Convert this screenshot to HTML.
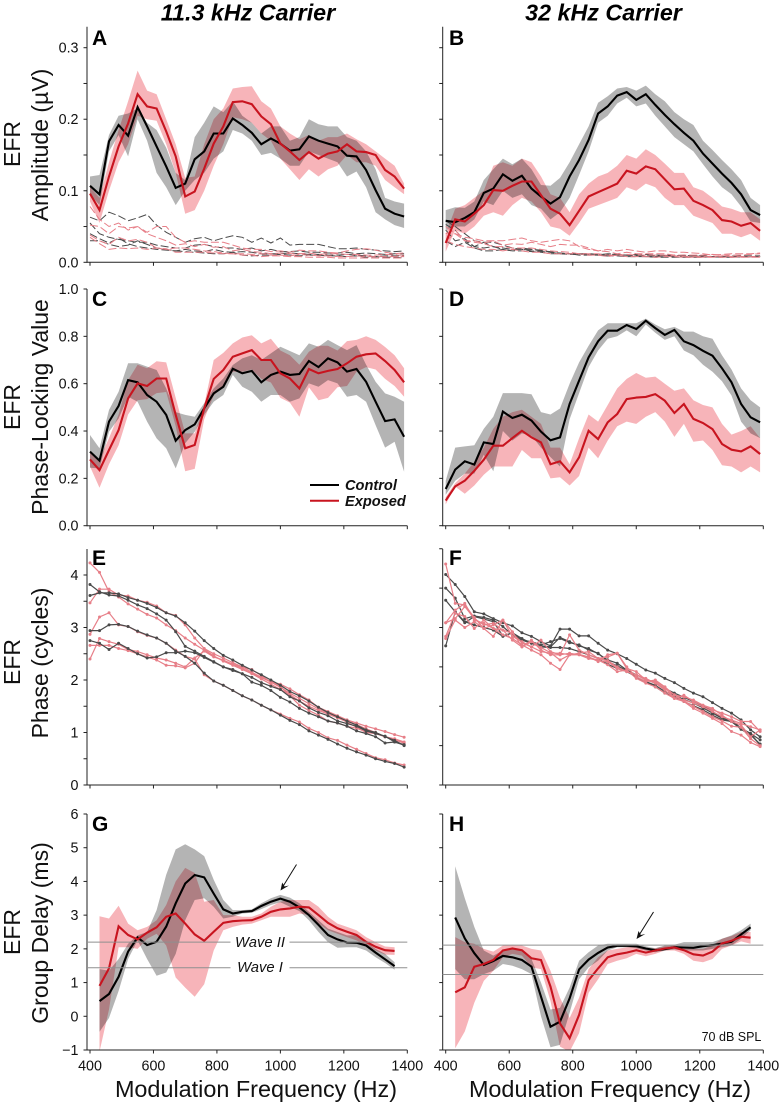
<!DOCTYPE html>
<html lang="en">
<head>
<meta charset="utf-8">
<title>EFR amplitude, phase-locking, phase and group delay</title>
<style>
html,body{margin:0;padding:0;background:#fff;width:780px;height:1103px;overflow:hidden}
svg{display:block;font-family:"Liberation Sans",sans-serif}
.ttl{font-size:23.3px;font-weight:bold;font-style:italic;text-anchor:middle;fill:#000}
.pl{font-size:21px;font-weight:bold;fill:#000}
.yt{font-size:23px;text-anchor:middle;fill:#111}
.xt{font-size:23.4px;text-anchor:middle;fill:#111}
.leg{font-size:14.6px;font-weight:bold;font-style:italic;fill:#111}
.wave{font-size:14.8px;font-style:italic;text-anchor:middle;fill:#111}
.tick{font-size:14.3px;fill:#111}
</style>
</head>
<body>
<svg id="chart" xmlns="http://www.w3.org/2000/svg" width="780" height="1103" viewBox="0 0 780 1103">
  <defs id="defs"></defs>
  <g id="marks"></g>

  <text class="ttl" x="248" y="20.5">11.3 kHz Carrier</text>
  <text class="ttl" x="603.5" y="20.5">32 kHz Carrier</text>

  <text class="pl" x="92" y="45">A</text>
  <text class="pl" x="449" y="45">B</text>
  <text class="pl" x="92" y="306">C</text>
  <text class="pl" x="449" y="306">D</text>
  <text class="pl" x="92" y="565">E</text>
  <text class="pl" x="449" y="565">F</text>
  <text class="pl" x="92" y="831">G</text>
  <text class="pl" x="449" y="831">H</text>

  <text class="yt" transform="translate(20,144) rotate(-90)">EFR</text>
  <text class="yt" transform="translate(48,145) rotate(-90)">Amplitude (µV)</text>
  <text class="yt" transform="translate(20,407) rotate(-90)">EFR</text>
  <text class="yt" transform="translate(48,407) rotate(-90)">Phase-Locking Value</text>
  <text class="yt" transform="translate(20,662) rotate(-90)">EFR</text>
  <text class="yt" transform="translate(48,663) rotate(-90)">Phase (cycles)</text>
  <text class="yt" transform="translate(20,932) rotate(-90)">EFR</text>
  <text class="yt" transform="translate(48,933) rotate(-90)">Group Delay (ms)</text>

  <text class="xt" x="256" y="1097">Modulation Frequency (Hz)</text>
  <text class="xt" x="610" y="1097">Modulation Frequency (Hz)</text>

  <g>
    <line x1="310" x2="339" y1="485" y2="485" stroke="#000" stroke-width="2"/>
    <text class="leg" x="345" y="490">Control</text>
    <line x1="310" x2="339" y1="500.7" y2="500.7" stroke="#c8141f" stroke-width="2"/>
    <text class="leg" x="345" y="506">Exposed</text>
  </g>

  <text class="wave" x="260" y="947">Wave II</text>
  <text class="wave" x="260" y="972">Wave I</text>

  <g stroke="#111" fill="none">
    <line x1="296.5" y1="864.5" x2="282" y2="888" stroke-width="1"/>
    <path d="M280.5 890.5 L282.2 882.5 L284.5 886.5 L289 885.5 Z" fill="#111" stroke="none"/>
  </g>
  <g stroke="#111" fill="none">
    <line x1="653.5" y1="912" x2="638.5" y2="936" stroke-width="1"/>
    <path d="M636.5 939 L638.5 931 L640.8 935 L645.3 934 Z" fill="#111" stroke="none"/>
  </g>

  <text x="731.5" y="1041" font-size="12.5" text-anchor="middle" fill="#111">70 dB SPL</text>
</svg>

<script>
// ---------- shared axes ----------
const xTicks = [400, 600, 800, 1000, 1200, 1400];
const xTickLabels = ['400', '600', '800', '1000', '1200', '1400'];
const freqs = [400,430,460,490,520,550,580,610,640,670,700,730,760,790,820,850,880,910,940,970,1000,1030,1060,1090,1120,1150,1180,1210,1240,1270,1300,1330,1360,1390];
const delayFreqs = [430,460,490,520,550,580,610,640,670,700,730,760,790,820,850,880,910,940,970,1000,1030,1060,1090,1120,1150,1180,1210,1240,1270,1300,1330,1360];

const ampTicks = [0,0.05,0.1,0.15,0.2,0.25,0.3];
const ampTickLabels = ['0.0','','0.1','','0.2','','0.3'];
const plvTicks = [0,0.2,0.4,0.6,0.8,1];
const plvTickLabels = ['0.0','0.2','0.4','0.6','0.8','1.0'];
const phaseTicks = [0,0.5,1,1.5,2,2.5,3,3.5,4];
const phaseTickLabels = ['0','','1','','2','','3','','4'];
const phaseTicksRight = [0,0.75,1.5,2.25,3,3.75,4.5];
const delayTicks = [-1,0,1,2,3,4,5,6];
const delayTickLabels = ['\u22121','0','1','2','3','4','5','6'];

// ---------- panel A ----------
const aControl = [.107,.095,.169,.192,.177,.217,.19,.162,.134,.104,.11,.144,.155,.18,.18,.201,.192,.181,.165,.173,.166,.156,.158,.176,.17,.166,.162,.149,.148,.129,.101,.075,.068,.064];
const aControlHi = [.12,.122,.178,.205,.208,.215,.195,.185,.16,.125,.115,.175,.195,.218,.21,.225,.205,.195,.18,.19,.19,.17,.175,.2,.193,.19,.19,.175,.17,.155,.13,.09,.085,.082];
const aControlLo = [.095,.08,.155,.178,.148,.2,.17,.125,.105,.08,.1,.115,.125,.145,.155,.185,.18,.17,.15,.153,.145,.135,.135,.155,.15,.145,.14,.12,.127,.105,.07,.06,.052,.048];
const aExposed = [.096,.073,.12,.162,.194,.235,.218,.215,.183,.148,.092,.099,.131,.166,.19,.224,.225,.221,.204,.193,.166,.155,.143,.154,.145,.152,.155,.165,.155,.154,.15,.129,.12,.103];
const aExposedHi = [.105,.09,.14,.185,.225,.268,.24,.235,.2,.165,.118,.12,.165,.2,.215,.243,.245,.246,.225,.215,.19,.18,.172,.178,.17,.175,.175,.18,.172,.165,.155,.145,.135,.11];
const aExposedLo = [.085,.055,.1,.14,.165,.205,.2,.198,.165,.125,.068,.073,.1,.135,.165,.203,.2,.195,.18,.17,.145,.13,.115,.13,.12,.13,.135,.15,.14,.14,.135,.115,.105,.095];
const aNoiseControl1 = [.063,.058,.07,.065,.058,.062,.067,.052,.042,.035,.028,.033,.035,.03,.034,.037,.035,.028,.034,.027,.034,.024,.025,.025,.025,.022,.019,.019,.02,.018,.017,.016,.015,.016];
const aNoiseControl2 = [.055,.04,.035,.032,.03,.028,.028,.024,.022,.02,.02,.024,.025,.022,.02,.02,.018,.02,.016,.018,.015,.015,.016,.014,.014,.013,.013,.014,.012,.013,.012,.011,.012,.012];
const aNoiseControl3 = [.04,.033,.027,.034,.026,.022,.02,.018,.017,.016,.018,.016,.015,.018,.015,.014,.015,.014,.012,.012,.012,.013,.012,.011,.011,.01,.01,.011,.01,.009,.008,.009,.009,.009];
const aNoiseControl4 = [.03,.03,.025,.022,.024,.03,.025,.02,.018,.016,.015,.014,.013,.012,.012,.014,.01,.009,.01,.01,.011,.01,.009,.01,.01,.009,.009,.008,.009,.007,.008,.007,.007,.006];
const aNoiseExposed1 = [.078,.06,.05,.055,.045,.05,.042,.05,.05,.035,.028,.03,.028,.028,.028,.024,.02,.018,.018,.015,.016,.014,.017,.016,.016,.014,.013,.016,.018,.019,.017,.014,.012,.013];
const aNoiseExposed2 = [.052,.05,.04,.05,.048,.05,.04,.035,.03,.024,.026,.022,.025,.021,.022,.016,.018,.015,.014,.012,.013,.012,.012,.013,.011,.012,.012,.011,.011,.01,.01,.011,.01,.01];
const aNoiseExposed3 = [.038,.03,.025,.035,.03,.032,.028,.02,.018,.02,.02,.018,.016,.015,.013,.012,.012,.011,.012,.01,.01,.009,.011,.01,.009,.009,.008,.008,.009,.008,.008,.008,.008,.008];
const aNoiseExposed4 = [.035,.026,.018,.02,.019,.02,.018,.02,.019,.014,.014,.014,.014,.013,.012,.012,.01,.01,.008,.009,.009,.008,.008,.007,.007,.007,.006,.006,.006,.006,.006,.006,.006,.006];

// ---------- panel B ----------
const bControl = [.058,.056,.062,.07,.097,.103,.123,.114,.121,.103,.092,.082,.091,.12,.143,.171,.208,.218,.233,.238,.227,.235,.22,.206,.193,.181,.17,.152,.138,.124,.111,.095,.073,.066];
const bControlHi = [.073,.077,.076,.085,.115,.13,.145,.137,.145,.13,.108,.107,.118,.14,.165,.19,.223,.232,.243,.245,.24,.247,.235,.225,.21,.2,.192,.17,.157,.143,.13,.115,.09,.08];
const bControlLo = [.045,.05,.05,.06,.085,.08,.1,.09,.095,.08,.075,.06,.07,.09,.122,.155,.195,.205,.222,.23,.218,.222,.205,.19,.175,.165,.155,.137,.12,.105,.095,.078,.057,.055];
const bExposed = [.027,.06,.057,.068,.08,.101,.1,.107,.113,.113,.094,.075,.068,.052,.072,.092,.098,.104,.11,.128,.124,.134,.13,.116,.102,.103,.086,.08,.073,.059,.057,.051,.055,.044];
const bExposedHi = [.04,.075,.08,.09,.1,.135,.14,.135,.145,.14,.12,.095,.09,.07,.095,.11,.12,.125,.135,.15,.145,.158,.15,.138,.125,.125,.105,.1,.09,.078,.075,.07,.07,.06];
const bExposedLo = [.015,.045,.04,.05,.065,.07,.065,.08,.09,.085,.07,.05,.047,.037,.055,.075,.08,.085,.09,.105,.1,.11,.105,.09,.08,.08,.065,.06,.055,.04,.04,.035,.04,.03];
const bNoiseControl1 = [.053,.045,.03,.022,.02,.022,.018,.016,.02,.018,.016,.015,.012,.012,.012,.012,.011,.011,.011,.01,.01,.011,.01,.01,.01,.009,.009,.008,.008,.008,.008,.009,.009,.009];
const bNoiseControl2 = [.058,.05,.04,.03,.028,.028,.024,.02,.018,.016,.015,.014,.012,.011,.011,.011,.01,.012,.011,.01,.009,.009,.009,.009,.008,.008,.009,.008,.008,.007,.008,.008,.008,.008];
const bNoiseControl3 = [.045,.03,.033,.022,.028,.022,.02,.018,.018,.018,.017,.014,.013,.012,.012,.012,.01,.009,.01,.01,.011,.008,.008,.009,.009,.01,.009,.009,.008,.008,.009,.007,.008,.008];
const bNoiseControl4 = [.03,.022,.028,.02,.016,.016,.018,.016,.016,.015,.014,.012,.012,.012,.01,.01,.01,.009,.009,.008,.008,.008,.007,.007,.007,.007,.007,.007,.008,.007,.007,.008,.008,.008];
const bNoiseExposed1 = [.03,.04,.035,.033,.03,.03,.03,.032,.034,.03,.028,.03,.032,.03,.022,.018,.016,.018,.016,.018,.016,.014,.016,.016,.014,.014,.013,.012,.01,.011,.012,.012,.012,.013];
const bNoiseExposed2 = [.04,.045,.03,.03,.027,.03,.024,.026,.025,.028,.025,.022,.025,.024,.024,.02,.016,.015,.012,.014,.012,.012,.012,.012,.01,.01,.01,.01,.011,.01,.01,.01,.011,.012];
const bNoiseExposed3 = [.05,.04,.03,.028,.026,.022,.022,.02,.02,.02,.018,.016,.015,.014,.012,.012,.012,.01,.01,.011,.01,.01,.01,.01,.009,.008,.008,.008,.008,.009,.008,.008,.008,.008];
const bNoiseExposed4 = [.03,.025,.022,.02,.018,.018,.016,.018,.016,.014,.014,.012,.012,.012,.012,.01,.01,.008,.01,.008,.008,.008,.007,.008,.008,.007,.007,.007,.007,.007,.007,.007,.007,.007];

// ---------- panel C ----------
const cControl = [.313,.275,.44,.506,.615,.606,.552,.524,.468,.359,.404,.428,.496,.559,.587,.663,.644,.654,.606,.637,.651,.637,.641,.696,.67,.707,.69,.651,.662,.608,.524,.442,.449,.376];
const cControlHi = [.383,.327,.489,.566,.686,.686,.672,.658,.58,.48,.468,.46,.517,.58,.622,.679,.707,.72,.7,.728,.756,.738,.72,.77,.756,.785,.763,.742,.763,.68,.608,.559,.545,.524];
const cControlLo = [.245,.242,.397,.453,.545,.524,.44,.369,.327,.242,.348,.397,.468,.524,.552,.637,.587,.566,.524,.552,.552,.524,.538,.601,.587,.615,.601,.545,.552,.524,.425,.33,.355,.228];
const cExposed = [.28,.235,.32,.404,.538,.601,.59,.622,.622,.468,.327,.341,.496,.62,.658,.714,.728,.742,.7,.7,.644,.622,.58,.662,.644,.654,.662,.686,.714,.724,.728,.696,.658,.606];
const cExposedHi = [.31,.28,.37,.47,.615,.68,.665,.695,.69,.54,.39,.39,.51,.7,.73,.77,.795,.805,.77,.79,.74,.72,.68,.735,.76,.76,.74,.78,.785,.8,.785,.755,.72,.665];
const cExposedLo = [.25,.16,.26,.34,.47,.53,.535,.56,.565,.42,.23,.24,.45,.55,.59,.65,.65,.66,.62,.605,.54,.52,.46,.585,.53,.54,.585,.59,.65,.67,.66,.62,.59,.545];

// ---------- panel D ----------
const dControl = [.155,.237,.272,.258,.352,.345,.482,.455,.469,.444,.397,.361,.373,.514,.613,.711,.779,.824,.824,.848,.831,.866,.835,.806,.827,.779,.763,.739,.718,.665,.606,.514,.458,.437];
const dControlHi = [.19,.33,.335,.34,.41,.46,.56,.56,.56,.555,.48,.47,.495,.6,.69,.76,.825,.855,.855,.855,.855,.875,.85,.83,.84,.82,.82,.8,.79,.72,.66,.58,.53,.5];
const dControlLo = [.13,.19,.22,.22,.3,.23,.4,.36,.39,.38,.33,.29,.25,.45,.56,.67,.74,.79,.8,.825,.8,.85,.815,.785,.8,.74,.72,.68,.65,.61,.55,.44,.39,.37];
const dExposed = [.106,.166,.19,.232,.279,.338,.338,.37,.401,.373,.352,.26,.272,.225,.289,.401,.366,.437,.472,.535,.541,.544,.556,.528,.476,.514,.451,.434,.408,.345,.321,.314,.335,.303];
const dExposedHi = [.12,.18,.22,.27,.33,.41,.46,.48,.49,.46,.43,.33,.33,.26,.37,.47,.44,.51,.58,.62,.645,.625,.63,.6,.57,.58,.53,.51,.5,.43,.385,.4,.42,.37];
const dExposedLo = [.09,.165,.135,.17,.215,.25,.25,.25,.32,.285,.285,.2,.205,.17,.21,.33,.285,.36,.42,.44,.43,.46,.48,.44,.375,.43,.355,.36,.32,.255,.25,.225,.25,.225];

// ---------- panel E ----------
const eControl1 = [3.82,3.68,3.62,3.6,3.52,3.43,3.36,3.26,3.14,2.92,2.64,2.55,2.45,2.35,2.25,2.18,2.12,2.05,1.95,1.88,1.82,1.68,1.6,1.47,1.38,1.32,1.22,1.17,1.12,1.03,.98,.93,.82,.77];
const eControl2 = [3.61,3.66,3.66,3.64,3.57,3.52,3.46,3.38,3.28,3.22,3.09,2.93,2.75,2.6,2.47,2.38,2.28,2.19,2.1,2,1.9,1.78,1.7,1.6,1.48,1.38,1.3,1.22,1.14,1.05,1,.92,.85,.75];
const eControl3 = [2.94,2.94,3.05,3.06,3.02,2.93,2.86,2.8,2.7,2.55,2.45,2.32,2.13,1.98,1.9,1.8,1.7,1.62,1.52,1.43,1.33,1.23,1.15,1.03,.95,.87,.78,.7,.63,.57,.5,.45,.41,.34];
const eControl4 = [2.75,2.7,2.58,2.7,2.6,2.5,2.42,2.44,2.52,2.52,2.55,2.52,2.43,2.34,2.25,2.2,2.12,1.96,1.9,1.8,1.67,1.58,1.46,1.37,1.3,1.22,1.18,1.12,1.03,.98,.92,.8,.82,.76];
const eExposed1 = [4.23,4.05,3.68,3.58,3.45,3.35,3.25,3.18,3.05,2.94,2.8,2.68,2.57,2.45,2.37,2.3,2.22,2.13,2.05,1.96,1.86,1.75,1.65,1.55,1.45,1.37,1.3,1.22,1.15,1.07,1,.92,.86,.8];
const eExposed2 = [3.47,3.73,3.73,3.62,3.6,3.52,3.48,3.41,3.28,3.23,3.05,2.8,2.6,2.5,2.42,2.33,2.25,2.15,2.05,1.97,1.92,1.83,1.72,1.62,1.48,1.4,1.32,1.24,1.18,1.12,1.07,1.02,.96,.91];
const eExposed3 = [2.87,3.2,3.28,3.05,3.02,2.92,2.85,2.8,2.7,2.57,2.45,2.4,2.1,1.98,1.9,1.8,1.7,1.62,1.52,1.43,1.35,1.27,1.2,1.08,1,.9,.85,.76,.68,.6,.52,.48,.42,.38];
const eExposed4 = [2.4,2.79,2.73,2.68,2.58,2.54,2.48,2.42,2.38,2.32,2.25,2.42,2.55,2.44,2.38,2.3,2.25,2.2,2.08,1.96,1.88,1.7,1.52,1.42,1.33,1.22,1.18,1.12,1.08,1.02,.98,.92,.88,.82];
const eExposed5 = [2.66,2.66,2.66,2.6,2.56,2.5,2.44,2.38,2.28,2.27,2.23,2.32,2.58,2.46,2.36,2.28,2.2,2.12,2.02,1.92,1.82,1.72,1.6,1.5,1.42,1.35,1.28,1.2,1.1,1,.98,.92,.87,.8];

// ---------- panel F ----------
const fControl1 = [4.01,3.82,3.59,3.3,3.26,3.17,3.09,3.03,2.9,2.83,2.73,2.65,2.97,2.97,2.84,2.84,2.7,2.57,2.5,2.41,2.3,2.19,2.13,2.03,1.95,1.84,1.75,1.68,1.57,1.46,1.37,1.24,1.05,.92];
const fControl2 = [3.75,3.56,3.17,3.22,3.19,3.14,3.02,2.86,2.76,2.7,2.65,2.63,2.81,2.73,2.65,2.6,2.5,2.38,2.32,2.19,2.1,2.01,1.94,1.84,1.75,1.67,1.59,1.51,1.4,1.28,1.24,1.08,.98,.86];
const fControl3 = [3.52,3.3,3.11,3.05,3,2.95,2.83,2.9,2.79,2.7,2.63,2.62,2.62,2.6,2.54,2.48,2.41,2.3,2.22,2.16,2.06,1.97,1.87,1.75,1.68,1.59,1.51,1.43,1.33,1.24,1.21,1.06,.95,.78];
const fControl4 = [2.65,3.3,3.09,3.21,3.16,3.11,2.84,2.9,2.76,2.73,2.67,2.73,2.79,2.71,2.67,2.57,2.51,2.35,2.27,2.18,2.05,1.97,1.9,1.78,1.71,1.63,1.56,1.47,1.37,1.27,1.21,1.08,.98,.76];
const fExposed1 = [4.21,3.46,3.43,3.19,2.98,2.83,3.14,2.92,2.63,2.76,2.57,2.48,2.48,2.86,2.57,2.48,2.41,2.44,2.51,2.22,2.16,2,1.94,1.84,1.72,1.6,1.5,1.4,1.3,1.22,1.12,1.1,.88,.75];
const fExposed2 = [3.09,3.33,3.46,3.14,3.08,2.98,2.86,2.79,2.67,2.57,2.48,2.32,2.2,2.48,2.48,2.41,2.38,2.29,2.16,2.19,2.03,1.94,1.87,1.75,1.65,1.59,1.46,1.37,1.27,1.17,1.02,.95,.81,.73];
const fExposed3 = [2.79,3.14,3,3.11,2.98,3.05,3.14,2.83,2.73,2.63,2.54,2.51,2.51,2.48,2.51,2.54,2.41,2.37,2.25,2.16,2.1,2,1.97,1.87,1.71,1.68,1.62,1.52,1.43,1.37,1.3,1.21,1.21,1.02];
const fExposed4 = [3.09,3.17,3.4,3.17,3.05,3.08,2.95,2.89,2.71,2.63,2.76,2.54,2.48,2.51,2.48,2.44,2.37,2.35,2.22,2.16,2.1,2.03,1.94,1.81,1.65,1.71,1.59,1.52,1.46,1.33,1.21,1.14,.92,1.05];
const fExposed5 = [2.83,3.27,3.21,2.98,3.14,2.98,2.95,2.76,2.63,2.73,2.62,2.52,2.38,2.48,2.49,2.44,2.35,2.48,2.51,2.25,2.06,1.97,2,1.87,1.65,1.62,1.56,1.49,1.4,1.3,1.24,1.17,1.11,1.05];

// ---------- panel G ----------
const gControl = [.45,.66,1.17,1.92,2.34,2.11,2.21,2.66,3.35,3.94,4.19,4.12,3.64,3.17,3.05,3.1,3.12,3.27,3.4,3.49,3.4,3.23,3,2.71,2.41,2.28,2.19,2.18,2.1,1.89,1.69,1.49];
const gControlHi = [1.4,1.35,1.7,2.15,2.4,2.5,3.15,4.2,4.95,5.1,4.95,4.75,4.05,3.45,3.15,3.15,3.17,3.35,3.5,3.6,3.52,3.35,3.1,2.85,2.6,2.5,2.4,2.4,2.2,2,1.85,1.6];
const gControlLo = [-.46,-.05,.75,1.7,2.25,1.7,1.2,1.3,1.85,2.85,3.45,3.5,3.25,2.9,2.95,3.05,3.07,3.18,3.3,3.38,3.25,3.12,2.85,2.5,2.2,2.03,2.05,2.05,1.95,1.75,1.58,1.38];
const gExposed = [.9,1.42,2.67,2.41,2.28,2.48,2.64,2.95,3.05,2.75,2.43,2.24,2.51,2.77,2.82,2.84,2.85,2.95,3.1,3.17,3.2,3.25,3.23,3,2.77,2.61,2.51,2.41,2.21,2.06,1.96,1.94];
const gExposedHi = [2.97,2.9,3.28,2.75,2.55,2.65,2.85,3.3,4,4.4,4.25,3.4,3.45,3,3,2.95,2.95,3.05,3.25,3.4,3.45,3.45,3.45,3.25,2.95,2.75,2.65,2.55,2.35,2.2,2.07,2.05];
const gExposedLo = [-1.05,.2,2.05,2.05,2,2.3,2.45,2.1,1.15,.85,.58,.95,1.95,2.55,2.65,2.72,2.75,2.85,2.95,2.95,2.95,3.05,3,2.75,2.55,2.45,2.35,2.25,2.1,1.95,1.83,1.82];
const gWaveLevels = [2.2, 1.44];

// ---------- panel H ----------
const hControl = [2.93,2.31,1.87,1.52,1.64,1.79,1.75,1.67,1.47,.58,-.31,-.16,.53,1.39,1.68,1.88,2.04,2.09,2.09,2.08,2.01,1.96,1.99,2.05,2.04,2.03,2.08,2.11,2.16,2.21,2.43,2.64];
const hControlHi = [4.45,3.5,2.65,1.95,1.8,1.95,2,1.95,1.7,1,.2,.25,.85,1.65,1.9,2.1,2.15,2.15,2.15,2.15,2.08,2.02,2.1,2.12,2.2,2.2,2.2,2.2,2.3,2.4,2.55,2.75];
const hControlLo = [1.4,1.1,1.1,1.25,1.35,1.55,1.5,1.4,1.25,0,-.92,-.85,.1,1.1,1.45,1.65,1.95,2.05,2.05,2.02,1.95,1.9,1.95,1.98,1.95,1.95,1.95,2,2.05,2.1,2.3,2.55];
const hExposed = [.71,.86,1.47,1.55,1.67,1.95,2.01,1.96,1.72,1.67,.88,-.21,-.65,.04,1.07,1.42,1.75,1.84,1.89,1.96,1.89,1.95,2.01,2.04,1.96,1.84,1.8,1.92,2.16,2.24,2.36,2.33];
const hExposedHi = [2.35,2.2,2.15,2,1.92,2.1,2.12,2.1,2,1.95,1.35,.55,-.05,.55,1.4,1.75,1.95,2,2.05,2.07,2,2.02,2.08,2.1,2.03,2,2,2.1,2.3,2.38,2.5,2.5];
const hExposedLo = [-.95,-.45,.4,1.05,1.35,1.75,1.85,1.8,1.45,1.4,.45,-.9,-1.05,-.5,.7,1.1,1.55,1.65,1.72,1.85,1.78,1.85,1.95,1.95,1.85,1.65,1.6,1.7,2,2.1,2.22,2.15];
const hWaveLevels = [2.11, 1.24];

// ---------- drawing ----------
const SVGNS = 'http://www.w3.org/2000/svg';
const root = document.getElementById('marks');
const defs = document.getElementById('defs');
const COL_BLACK = '#000', COL_RED = '#c8141f';
const BAND_GRAY = '#b4b4b4', BAND_RED = '#f7b4b9';
const THIN_BLACK = '#4a4a4a', THIN_RED = '#e77f88';

function mk(tag, attrs, parent) {
  const el = document.createElementNS(SVGNS, tag);
  for (const k in attrs) el.setAttribute(k, attrs[k]);
  parent.appendChild(el);
  return el;
}

function makeXScale(col) {
  const x400 = col === 0 ? 90 : 445.7;
  const x1400 = col === 0 ? 407.3 : 763.3;
  return v => x400 + (v - 400) * (x1400 - x400) / 1000;
}
function makeYScale(vA, pA, vB, pB) {
  return v => pA + (v - vA) * (pB - pA) / (vB - vA);
}
function pointsOf(xs, ys, sx, sy) {
  return xs.map((f, i) => sx(f).toFixed(1) + ',' + sy(ys[i]).toFixed(1)).join(' ');
}

function drawAxes(g, name, sx, sy, col, yTop, yTicks, yLabels, withXLabels) {
  const spineX = col === 0 ? 87 : 442.7;
  const yBottom = sy(yTicks[0]);
  const yAxis = mk('line', {x1: spineX, x2: spineX, y1: yTop, y2: yBottom + 0.5, stroke: '#222', 'stroke-width': 1}, g);
  
  
  const xAxis = mk('line', {x1: spineX, x2: sx(1400), y1: yBottom, y2: yBottom, stroke: '#222', 'stroke-width': 1}, g);
  
  
  yTicks.forEach((t, i) => {
    const y = sy(t);
    const tk = mk('line', {x1: spineX - 3.5, x2: spineX, y1: y, y2: y, stroke: '#222', 'stroke-width': 1}, g);
    
    
    if (yLabels && yLabels[i]) {
      const lb = mk('text', {x: 78.5, y: y + 5, 'text-anchor': 'end', class: 'tick'}, g);
      
      
      lb.textContent = yLabels[i];
    }
  });
  xTicks.forEach((t, i) => {
    const x = sx(t);
    const tk = mk('line', {x1: x, x2: x, y1: yBottom, y2: yBottom + 3.5, stroke: '#222', 'stroke-width': 1}, g);
    
    
    if (withXLabels) {
      const lb = mk('text', {x: x, y: 1070.5, 'text-anchor': 'middle', class: 'tick'}, g);
      
      
      lb.textContent = xTickLabels[i];
    }
  });
}

function drawBand(g, name, xs, hi, lo, sx, sy, color) {
  const pts = pointsOf(xs, hi, sx, sy) + ' ' + pointsOf(xs.slice().reverse(), lo.slice().reverse(), sx, sy);
  const el = mk('polygon', {points: pts, fill: color, stroke: 'none', style: 'mix-blend-mode:multiply'}, g);
  
  
}
function drawLine(g, name, xs, ys, sx, sy, color, width, dash) {
  const attrs = {points: pointsOf(xs, ys, sx, sy), fill: 'none', stroke: color, 'stroke-width': width, 'stroke-linejoin': 'miter'};
  if (dash) attrs['stroke-dasharray'] = dash;
  const el = mk('polyline', attrs, g);
  
  
}
function drawPhaseLine(g, name, xs, ys, sx, sy, color) {
  drawLine(g, name, xs, ys, sx, sy, color, 1.2);
  xs.forEach((f, i) => {
    const dot = mk('circle', {cx: sx(f), cy: sy(ys[i]), r: 1.5, fill: color}, g);
    
    
  });
}
function panelGroup(name) {
  const g = mk('g', {}, root);
  
  
  return g;
}
function clipGroup(parent, id, col, top, bottom) {
  const cp = mk('clipPath', {id: id}, defs);
  mk('rect', {x: col === 0 ? 87 : 443, y: top, width: 335, height: bottom - top}, cp);
  const g = mk('g', {'clip-path': 'url(#' + id + ')', style: 'isolation:isolate'}, parent);
  return g;
}
function drawMeanPanel(name, col, xs, sy, yTop, yTicks, yLabels, withXLabels, c, cHi, cLo, e, eHi, eLo, noiseC, noiseE) {
  const g = panelGroup(name);
  const sx = makeXScale(col);
  const plot = clipGroup(g, 'clip-' + name, col, yTop, sy(yTicks[0]));
  drawBand(plot, name + '-control-band', xs, cHi, cLo, sx, sy, BAND_GRAY);
  drawBand(plot, name + '-exposed-band', xs, eHi, eLo, sx, sy, BAND_RED);
  (noiseC || []).forEach(n => drawLine(plot, name + '-control-noise-floor', xs, n, sx, sy, THIN_BLACK, 1, '8 3'));
  (noiseE || []).forEach(n => drawLine(plot, name + '-exposed-noise-floor', xs, n, sx, sy, THIN_RED, 1, '8 3'));
  drawLine(plot, name + '-control-line', xs, c, sx, sy, COL_BLACK, 2.1);
  drawLine(plot, name + '-exposed-line', xs, e, sx, sy, COL_RED, 2.1);
  drawAxes(g, name, sx, sy, col, yTop, yTicks, yLabels, withXLabels);
  return {g: g, sx: sx};
}

// scales
const syAmp = makeYScale(0, 262.3, 0.3, 47.7);
const syPlv = makeYScale(0, 525.7, 1, 289);
const syPhase = makeYScale(0, 785, 4, 575);
const syDelay = makeYScale(-1, 1050, 6, 814);

// A, B
drawMeanPanel('panel-a', 0, freqs, syAmp, 26.7, ampTicks, ampTickLabels, false,
  aControl, aControlHi, aControlLo, aExposed, aExposedHi, aExposedLo,
  [aNoiseControl1, aNoiseControl2, aNoiseControl3, aNoiseControl4],
  [aNoiseExposed1, aNoiseExposed2, aNoiseExposed3, aNoiseExposed4]);
drawMeanPanel('panel-b', 1, freqs, syAmp, 26.7, ampTicks, null, false,
  bControl, bControlHi, bControlLo, bExposed, bExposedHi, bExposedLo,
  [bNoiseControl1, bNoiseControl2, bNoiseControl3, bNoiseControl4],
  [bNoiseExposed1, bNoiseExposed2, bNoiseExposed3, bNoiseExposed4]);

// C, D
drawMeanPanel('panel-c', 0, freqs, syPlv, 289, plvTicks, plvTickLabels, false,
  cControl, cControlHi, cControlLo, cExposed, cExposedHi, cExposedLo);
drawMeanPanel('panel-d', 1, freqs, syPlv, 289, plvTicks, null, false,
  dControl, dControlHi, dControlLo, dExposed, dExposedHi, dExposedLo);

// E
const panelE = panelGroup('panel-e');
const sxE = makeXScale(0);
[eExposed1, eExposed2, eExposed3, eExposed4, eExposed5].forEach(s => drawPhaseLine(panelE, 'panel-e-exposed-phase', freqs, s, sxE, syPhase, THIN_RED));
[eControl1, eControl2, eControl3, eControl4].forEach(s => drawPhaseLine(panelE, 'panel-e-control-phase', freqs, s, sxE, syPhase, THIN_BLACK));
drawAxes(panelE, 'panel-e', sxE, syPhase, 0, 549, phaseTicks, phaseTickLabels, false);

// F
const panelF = panelGroup('panel-f');
const sxF = makeXScale(1);
[fControl1, fControl2, fControl3, fControl4].forEach(s => drawPhaseLine(panelF, 'panel-f-control-phase', freqs, s, sxF, syPhase, THIN_BLACK));
[fExposed1, fExposed2, fExposed3, fExposed4, fExposed5].forEach(s => drawPhaseLine(panelF, 'panel-f-exposed-phase', freqs, s, sxF, syPhase, THIN_RED));
drawAxes(panelF, 'panel-f', sxF, syPhase, 1, 549, phaseTicksRight, null, false);

// G
const panelG = drawMeanPanel('panel-g', 0, delayFreqs, syDelay, 814, delayTicks, delayTickLabels, true,
  gControl, gControlHi, gControlLo, gExposed, gExposedHi, gExposedLo);
gWaveLevels.forEach(level => {
  const y = syDelay(level);
  const a = mk('line', {x1: 87, x2: 230.5, y1: y, y2: y, stroke: '#8f8f8f', 'stroke-width': 1}, panelG.g);
  
  
  const b = mk('line', {x1: 289.5, x2: 407.3, y1: y, y2: y, stroke: '#8f8f8f', 'stroke-width': 1}, panelG.g);
  
  
});

// H
const panelH = drawMeanPanel('panel-h', 1, delayFreqs, syDelay, 814, delayTicks, null, true,
  hControl, hControlHi, hControlLo, hExposed, hExposedHi, hExposedLo);
hWaveLevels.forEach(level => {
  const y = syDelay(level);
  const a = mk('line', {x1: 442.7, x2: 763.3, y1: y, y2: y, stroke: '#8f8f8f', 'stroke-width': 1}, panelH.g);
  
  
});
</script>
</body>
</html>
